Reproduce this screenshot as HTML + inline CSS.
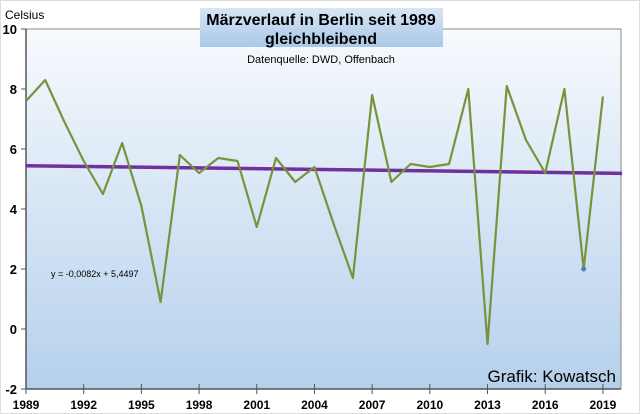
<!DOCTYPE html>
<html><head><meta charset="utf-8"><style>
body{margin:0;background:#fff;font-family:"Liberation Sans",sans-serif}
#wrap{position:relative;width:640px;height:414px;overflow:hidden;background:#fff;border:1px solid #ddd;box-sizing:border-box}
</style></head><body>
<div id="wrap">
<svg id="svg" width="640" height="414">
<defs>
<linearGradient id="bg" x1="0" y1="0" x2="0" y2="1"><stop offset="0" stop-color="#f7fafd"/><stop offset="1" stop-color="#b5d0ec"/></linearGradient>
<linearGradient id="tb" x1="0" y1="0" x2="0" y2="1"><stop offset="0" stop-color="#d8e6f5"/><stop offset="1" stop-color="#a9c8e8"/></linearGradient>
</defs>
</svg>
</div>
<script>
const years=[1989,1990,1991,1992,1993,1994,1995,1996,1997,1998,1999,2000,2001,2002,2003,2004,2005,2006,2007,2008,2009,2010,2011,2012,2013,2014,2015,2016,2017,2018,2019];
const temps=[7.6,8.3,6.9,5.6,4.5,6.2,4.1,0.9,5.8,5.2,5.7,5.6,3.4,5.7,4.9,5.4,3.5,1.7,7.8,4.9,5.5,5.4,5.5,8.0,-0.5,8.1,6.3,5.2,8.0,2.0,7.75];
const yTicks=[-2,0,2,4,6,8,10];
const xTicks=[1989,1992,1995,1998,2001,2004,2007,2010,2013,2016,2019];
const trendSlope=-0.0082, trendIntercept=5.4497;
const L=25,R=620,T=28,B=388;
const X=y=>L+(y-1989)*19.23;
const Y=v=>B-(v+2)*(B-T)/12;
const svg=document.getElementById('svg');
const NS='http://www.w3.org/2000/svg';
function mk(t,a,txt){const e=document.createElementNS(NS,t);for(const k in a)e.setAttribute(k,a[k]);if(txt!=null)e.textContent=txt;svg.appendChild(e);return e;}
let e;
e=mk('rect',{x:L,y:T,width:R-L,height:B-T,fill:'url(#bg)',stroke:'#888','stroke-width':1});

e=mk('line',{x1:L,y1:T,x2:L,y2:B,stroke:'#555','stroke-width':1.5});

e=mk('line',{x1:L,y1:B,x2:R,y2:B,stroke:'#555','stroke-width':1.5});

yTicks.forEach(v=>{
 e=mk('line',{x1:L-5,y1:Y(v),x2:L,y2:Y(v),stroke:'#555'});
 
 e=mk('text',{x:L-9,y:Y(v)+5,'text-anchor':'end','font-size':13,'font-weight':'bold',fill:'#000'},v);
 
});
xTicks.forEach(v=>{
 e=mk('line',{x1:X(v),y1:B-5,x2:X(v),y2:B+5,stroke:'#555'});
 
 e=mk('text',{x:X(v),y:B+20,'text-anchor':'middle','font-size':12,'font-weight':'bold',fill:'#000'},v);
 
});
e=mk('text',{x:4,y:18,'font-size':12,fill:'#000'},'Celsius');

// trend
const x0=years[0],x1=years[years.length-1]+1;
e=mk('line',{x1:X(x0),y1:Y(trendIntercept+trendSlope*1),x2:X(x1),y2:Y(trendIntercept+trendSlope*(x1-x0+1)),stroke:'#7030a0','stroke-width':3.5});

e=mk('polyline',{points:years.map((y,i)=>X(y)+','+Y(temps[i])).join(' '),fill:'none',stroke:'#77933c','stroke-width':2.2,'stroke-linejoin':'round'});

const i18=years.indexOf(2018);
e=mk('circle',{cx:X(years[i18]),cy:Y(temps[i18]),r:2.5,fill:'#4f81bd'});

e=mk('text',{x:50,y:276,'font-size':9,fill:'#000'},'y = -0,0082x + 5,4497');

e=mk('rect',{x:199,y:7,width:243,height:39,fill:'url(#tb)'});

e=mk('text',{x:320,y:24,'text-anchor':'middle','font-size':16,'font-weight':'bold',fill:'#000'},'Märzverlauf in Berlin seit 1989');

e=mk('text',{x:320,y:43,'text-anchor':'middle','font-size':16,'font-weight':'bold',fill:'#000'},'gleichbleibend');

e=mk('text',{x:320,y:62,'text-anchor':'middle','font-size':11,fill:'#000'},'Datenquelle: DWD, Offenbach');

e=mk('text',{x:615,y:381,'text-anchor':'end','font-size':17,fill:'#000'},'Grafik: Kowatsch');

</script>
</body></html>
